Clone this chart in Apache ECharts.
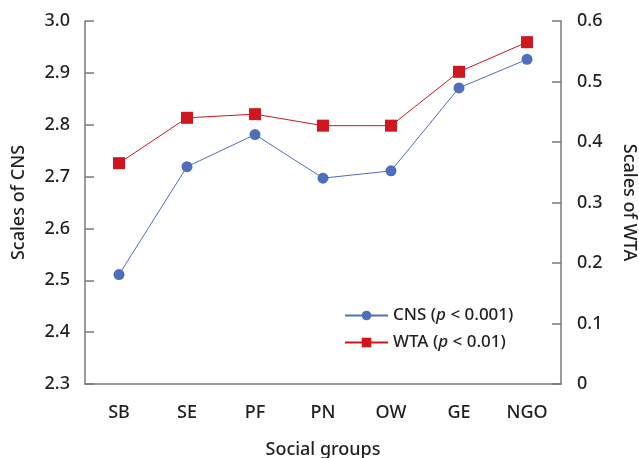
<!DOCTYPE html>
<html>
<head>
<meta charset="utf-8">
<script src="https://cdn.jsdelivr.net/npm/echarts@6/dist/echarts.min.js"></script>
<style>html,body{margin:0;padding:0;background:#fff}#c{width:639px;height:458px}</style>
</head>
<body>
<div id="c"></div>
<script>
var categories = ['SB', 'SE', 'PF', 'PN', 'OW', 'GE', 'NGO'];
var cnsValues = [2.511, 2.719, 2.781, 2.697, 2.711, 2.871, 2.926];
var wtaValues = [0.365, 0.440, 0.446, 0.427, 0.427, 0.516, 0.565];
var leftTicks = [2.3, 2.4, 2.5, 2.6, 2.7, 2.8, 2.9, 3.0];
var rightTicks = [0, 0.1, 0.2, 0.3, 0.4, 0.5, 0.6];

var FONT = 'Noto Sans';
var TXT = '#231f20';
var AX = '#7a7a7a';
var W = 500;

var chart = echarts.init(document.getElementById('c'), null, {renderer: 'canvas'});
chart.setOption({
  animation: false,
  textStyle: {fontFamily: FONT},
  grid: {left: 85, right: 78, top: 21, bottom: 74, containLabel: false, outerBoundsMode: 'none'},
  legend: {
    orient: 'vertical',
    left: 339,
    top: 302,
    itemWidth: 43,
    itemHeight: 12,
    itemGap: 10,
    data: ['CNS', 'WTA'],
    formatter: function (name) {
      return name === 'CNS'
        ? '{n|CNS (}{i|p}{n| < 0.001)}'
        : '{n|WTA (}{i|p}{n| < 0.01)}';
    },
    textStyle: {
      rich: {
        n: {fontFamily: FONT, fontSize: 17, color: TXT, fontWeight: W},
        i: {fontFamily: FONT, fontSize: 17, color: TXT, fontStyle: 'italic', fontWeight: W}
      }
    }
  },
  xAxis: {
    type: 'category',
    data: categories,
    boundaryGap: true,
    name: 'Social groups',
    nameLocation: 'middle',
    nameGap: 57,
    nameTextStyle: {fontSize: 18, color: TXT, fontFamily: FONT, fontWeight: W},
    axisLine: {lineStyle: {color: AX, width: 1.5}},
    axisTick: {alignWithLabel: true, inside: true, length: 9, lineStyle: {color: AX, width: 1.5}},
    axisLabel: {fontSize: 18, color: TXT, margin: 20, fontFamily: FONT, fontWeight: W}
  },
  yAxis: [{
    type: 'value',
    min: leftTicks[0],
    max: leftTicks[leftTicks.length - 1],
    interval: 0.1,
    name: 'Scales of CNS',
    nameLocation: 'middle',
    nameGap: 57,
    nameTextStyle: {fontSize: 18, color: TXT, fontFamily: FONT, fontWeight: W},
    axisLine: {show: true, lineStyle: {color: AX, width: 1.5}},
    axisTick: {show: true, inside: true, length: 9, lineStyle: {color: AX, width: 1.5}},
    splitLine: {show: false},
    axisLabel: {fontSize: 18, color: TXT, margin: 15, fontFamily: FONT, fontWeight: W,
      formatter: function (v) { return v.toFixed(1); }}
  }, {
    type: 'value',
    position: 'right',
    min: rightTicks[0],
    max: rightTicks[rightTicks.length - 1],
    interval: 0.1,
    name: 'Scales of WTA',
    nameLocation: 'middle',
    nameRotate: -90,
    nameGap: 59,
    nameTextStyle: {fontSize: 18, color: TXT, fontFamily: FONT, fontWeight: W},
    axisLine: {show: true, lineStyle: {color: AX, width: 1.5}},
    axisTick: {show: true, inside: true, length: 9, lineStyle: {color: AX, width: 1.5}},
    splitLine: {show: false},
    axisLabel: {fontSize: 18, color: TXT, margin: 16, fontFamily: FONT, fontWeight: W,
      formatter: function (v) { return v === 0 ? '0' : v.toFixed(1); }}
  }],
  series: [{
    name: 'CNS',
    type: 'line',
    yAxisIndex: 0,
    data: cnsValues,
    symbol: 'circle',
    symbolSize: 11,
    itemStyle: {color: '#4f6ebd'},
    lineStyle: {color: '#4f6ebd', width: 1}
  }, {
    name: 'WTA',
    type: 'line',
    yAxisIndex: 1,
    data: wtaValues,
    symbol: 'rect',
    symbolSize: 12,
    itemStyle: {color: '#d0161e'},
    lineStyle: {color: '#d0161e', width: 1}
  }]
});
</script>
</body>
</html>
